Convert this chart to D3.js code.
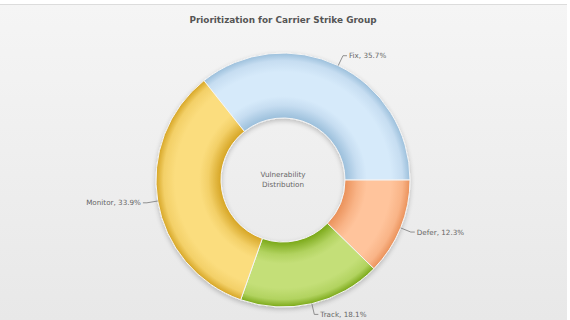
<!DOCTYPE html>
<html><head><meta charset="utf-8">
<script src="https://cdn.jsdelivr.net/npm/d3@7"></script>
<style>html,body{margin:0;padding:0;background:#fff;}svg{display:block;}</style>
</head><body>
<script>
const categories = ["Fix", "Defer", "Track", "Monitor"];
const values = [35.7, 12.3, 18.1, 33.9];
const title = "Prioritization for Carrier Strike Group";
const centerLabel = ["Vulnerability", "Distribution"];
const colors = [
  {light:"#d6eafa", mid:"#c6ddf1", dark:"#9bbfdb"},
  {light:"#ffc49c", mid:"#f9b487", dark:"#ea915a"},
  {light:"#c4df78", mid:"#b2d360", dark:"#7aa818"},
  {light:"#fbdd7e", mid:"#f3d068", dark:"#d6a524"}
];

const W = 570, H = 320;
const cx = 283, cy = 180, R = 127, r0 = 62;
const startAngle = -38.5 * Math.PI / 180;

const svg = d3.select("body").append("svg").attr("width", W).attr("height", H);
const defs = svg.append("defs");

const bg = defs.append("linearGradient").attr("id","bg").attr("x1",0).attr("y1",0).attr("x2",0).attr("y2",1);
bg.append("stop").attr("offset","0%").attr("stop-color","#f5f5f5");
bg.append("stop").attr("offset","100%").attr("stop-color","#e8e8e8");
svg.append("rect").attr("x",0).attr("y",0).attr("width",W).attr("height",H).attr("fill","#ffffff");
svg.append("rect").attr("x",0).attr("y",4).attr("width",567).attr("height",H-4).attr("fill","url(#bg)");
svg.append("line").attr("x1",0).attr("x2",567).attr("y1",4.5).attr("y2",4.5).attr("stroke","#dcdcdc").attr("stroke-width",1);

const sh = defs.append("filter").attr("id","shadow").attr("x","-20%").attr("y","-20%").attr("width","140%").attr("height","140%");
sh.append("feGaussianBlur").attr("in","SourceAlpha").attr("stdDeviation",2.5);
sh.append("feOffset").attr("dx",0).attr("dy",2).attr("result","b");
sh.append("feComponentTransfer").append("feFuncA").attr("type","linear").attr("slope",0.22);
const mg = sh.append("feMerge"); mg.append("feMergeNode"); mg.append("feMergeNode").attr("in","SourceGraphic");

colors.forEach((c,i)=>{
  const gr = defs.append("radialGradient").attr("id","g"+i)
    .attr("gradientUnits","userSpaceOnUse").attr("cx",0).attr("cy",0).attr("r",R);
  const f = r0 / R;
  gr.append("stop").attr("offset", f).attr("stop-color", c.dark);
  gr.append("stop").attr("offset", f + 0.10).attr("stop-color", c.mid);
  gr.append("stop").attr("offset", 0.66).attr("stop-color", c.light);
  gr.append("stop").attr("offset", 0.85).attr("stop-color", c.light);
  gr.append("stop").attr("offset", 0.94).attr("stop-color", c.mid);
  gr.append("stop").attr("offset", 1).attr("stop-color", c.dark);
});

const pie = d3.pie().sort(null).value(d=>d)
  .startAngle(startAngle).endAngle(startAngle + 2*Math.PI);
const arcs = pie(values);
const arc = d3.arc().innerRadius(r0).outerRadius(R);

const g = svg.append("g").attr("transform",`translate(${cx},${cy})`);
g.append("g").attr("filter","url(#shadow)").selectAll("path").data(arcs).join("path")
  .attr("d", arc)
  .attr("fill",(d,i)=>`url(#g${i})`)
  .attr("stroke","#f4f4f4").attr("stroke-width",1);

arcs.forEach((d,i)=>{
  const a = (d.startAngle + d.endAngle)/2;
  const x1 = R*Math.sin(a), y1 = -R*Math.cos(a);
  const x2 = (R+11)*Math.sin(a), y2 = -(R+11)*Math.cos(a);
  const right = Math.sin(a) >= 0;
  const x3 = x2 + (right ? 4 : -4);
  g.append("polyline").attr("points",`${x1},${y1} ${x2},${y2} ${x3},${y2}`)
    .attr("fill","none").attr("stroke","#777").attr("stroke-width",0.8);
  g.append("text").attr("x", x3 + (right?2:-2)).attr("y", y2)
    .attr("dy","0.35em").attr("text-anchor", right?"start":"end")
    .attr("font-family","'DejaVu Sans', Verdana, sans-serif").attr("font-size",7.2)
    .attr("fill","#666").text(`${categories[i]}, ${values[i]}%`);
});
const ct = g.append("text").attr("text-anchor","middle")
  .attr("font-family","'DejaVu Sans', Verdana, sans-serif").attr("font-size",7.2).attr("fill","#666");
centerLabel.forEach((t,k)=>ct.append("tspan").attr("x",0).attr("y",-3 + k*9.5).text(t));
svg.append("text").attr("x",283).attr("y",23).attr("text-anchor","middle")
  .attr("font-family","'DejaVu Sans', Verdana, sans-serif").attr("font-weight","bold")
  .attr("font-size",8.9).attr("fill","#555").text(title);
</script>
</body></html>
